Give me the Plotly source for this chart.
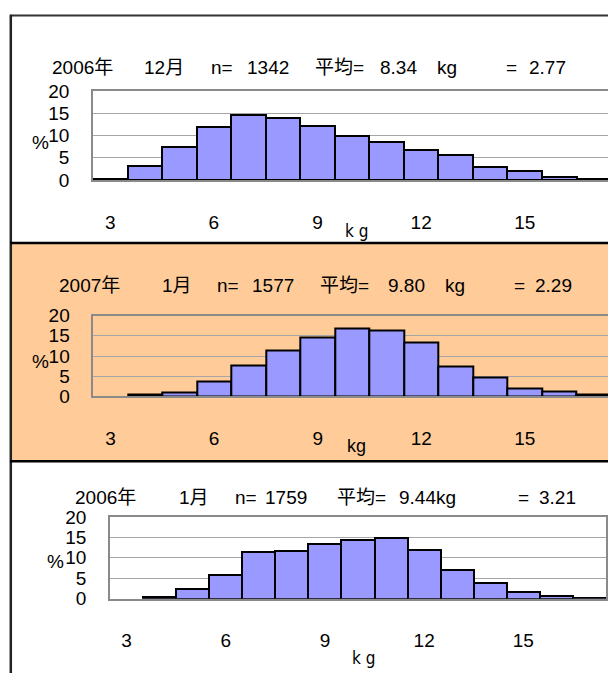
import plotly.graph_objects as go

# ---- data ----
categories = [3, 4, 5, 6, 7, 8, 9, 10, 11, 12, 13, 14, 15, 16, 17]
tick_vals = [3, 6, 9, 12, 15]
tick_text = ["3", "6", "9", "12", "15"]
y_tick_vals = [0, 5, 10, 15, 20]
y_tick_text = ["0", "5", "10", "15", "20"]

pct_2006_12 = [0.3, 3.1, 7.4, 12.0, 14.7, 14.0, 12.1, 10.0, 8.5, 6.8, 5.7, 3.05, 1.95, 0.65, 0.2]
pct_2007_01 = [None, 0.4, 1.0, 3.7, 7.6, 11.4, 14.5, 16.7, 16.3, 13.3, 7.3, 4.6, 2.0, 1.1, 0.4]
pct_2006_01 = [None, 0.4, 2.3, 5.8, 11.5, 11.6, 13.3, 14.3, 14.8, 11.9, 7.0, 3.95, 1.74, 0.7, 0.25]

title1 = ["2006年", "12月", "n=", "1342", "平均=", "8.34", "kg", "=", "2.77"]
title2 = ["2007年", "1月", "n=", "1577", "平均=", "9.80", "kg", "=", "2.29"]
title3 = ["2006年", "1月", "n=", "1759", "平均=", "9.44kg", "=", "3.21"]

W, H = 608, 684
FONT = "Liberation Sans, Arial, Noto Sans CJK JP, sans-serif"
BAR_COLOR = "#9999FF"
ORANGE = "#FFCC99"


def px_x(x):
    return x / W


def px_y(y):
    return 1 - y / H


fig = go.Figure()

panels = [
    # (data, x-left px, x-right px, top px, bottom px, x range end, right frame)
    (pct_2006_12, 93, 608, 83.5, 175.5, 17.41, False),
    (pct_2007_01, 93.3, 608, 315.3, 398.7, 17.41, False),
    (pct_2006_01, 110, 606, 523, 607.3, 17.5, True),
]

for i, (vals, xl, xr, yt, yb, xend, mirror_y) in enumerate(panels, start=1):
    sfx = "" if i == 1 else str(i)
    fig.add_trace(go.Bar(
        x=categories, y=vals,
        marker=dict(color=BAR_COLOR, line=dict(color="black", width=2)),
        xaxis="x" + sfx, yaxis="y" + sfx, showlegend=False, hoverinfo="skip",
    ))
    fig.layout["xaxis" + sfx] = dict(
        domain=[px_x(xl), px_x(xr)], range=[2.5, xend], anchor="y" + sfx,
        tickmode="array", tickvals=tick_vals, ticktext=tick_text,
        ticks="outside", ticklen=24, tickcolor="rgba(0,0,0,0)",
        tickfont=dict(family=FONT, size=19, color="black"),
        showline=True, linecolor="#8a8a8a", linewidth=1.5, mirror=True,
        showgrid=False, zeroline=False, fixedrange=True,
    )
    fig.layout["yaxis" + sfx] = dict(
        domain=[px_y(yb), px_y(yt)], range=[0, 20], anchor="x" + sfx,
        tickmode="array", tickvals=y_tick_vals, ticktext=y_tick_text,
        ticks="outside", ticklen=18, tickcolor="rgba(0,0,0,0)",
        tickfont=dict(family=FONT, size=19, color="black"),
        showline=True, linecolor="#8a8a8a", linewidth=1.5, mirror=mirror_y,
        showgrid=True, gridcolor="#a6a6a6", gridwidth=1, zeroline=False,
        fixedrange=True,
    )

annotations = []


def add_text(text, x_left, y_center, size=19, family=FONT):
    annotations.append(dict(
        text=text, x=px_x(x_left), y=px_y(y_center), xref="paper", yref="paper",
        xanchor="left", yanchor="middle", showarrow=False,
        font=dict(family=family, size=size, color="black"),
    ))


def add_center(text, x_c, y_c, size=19, family=FONT):
    annotations.append(dict(
        text=text, x=px_x(x_c), y=px_y(y_c), xref="paper", yref="paper",
        xanchor="center", yanchor="middle", showarrow=False,
        font=dict(family=family, size=size, color="black"),
    ))


# titles (token positions)
for tok, xl in zip(title1, [50, 142, 209, 245, 313, 378, 435, 504, 527]):
    add_text(tok, xl, 59)
for tok, xl in zip(title2, [57, 160, 215, 250, 318, 386, 443, 512, 533]):
    add_text(tok, xl, 284)
for tok, xl in zip(title3, [73, 177, 233, 263, 335, 397, 516, 537]):
    add_text(tok, xl, 503)

# % labels
add_center("%", 40, 137)
add_center("%", 40, 363)
add_center("%", 55, 569)

# kg axis labels
NARROW = "Liberation Sans Narrow, DejaVu Sans Condensed, Liberation Sans, sans-serif"
add_center("k g", 356, 228, size=17, family=NARROW)
add_center("kg", 356, 450, size=18)
add_center("k g", 363, 669, size=17, family=NARROW)

shapes = [
    # orange background of middle panel
    dict(type="rect", xref="paper", yref="paper", layer="below",
         x0=px_x(11), x1=1, y0=px_y(465), y1=px_y(241),
         fillcolor=ORANGE, line=dict(width=0)),
    # outer frame lines
    dict(type="line", xref="paper", yref="paper", x0=px_x(10), x1=1,
         y0=px_y(5.8), y1=px_y(5.8), line=dict(color="#333333", width=2)),
    dict(type="line", xref="paper", yref="paper", x0=px_x(10.8), x1=px_x(10.8),
         y0=px_y(5), y1=0, line=dict(color="#222222", width=2.5)),
    dict(type="line", xref="paper", yref="paper", x0=px_x(10), x1=1,
         y0=px_y(240.5), y1=px_y(240.5), line=dict(color="black", width=2.5)),
    dict(type="line", xref="paper", yref="paper", x0=px_x(10), x1=1,
         y0=px_y(465.5), y1=px_y(465.5), line=dict(color="black", width=2.5)),
]

fig.update_layout(
    width=W, height=H,
    margin=dict(l=0, r=0, t=0, b=0),
    paper_bgcolor="white", plot_bgcolor="white",
    bargap=0,
    annotations=annotations,
    shapes=shapes,
    font=dict(family=FONT, size=19, color="black"),
)

fig.write_html(
    "out.html",
    config={"displayModeBar": False, "responsive": False},
    post_script=(
        "var h=document.documentElement.style;h.margin='0';h.padding='0';h.overflow='hidden';"
        "var b=document.body.style;b.margin='0';b.padding='0';b.overflow='hidden';"
        "var g=document.getElementById('{plot_id}');g.style.position='fixed';"
        "g.style.left='0px';g.style.top='0px';"
    ),
)
